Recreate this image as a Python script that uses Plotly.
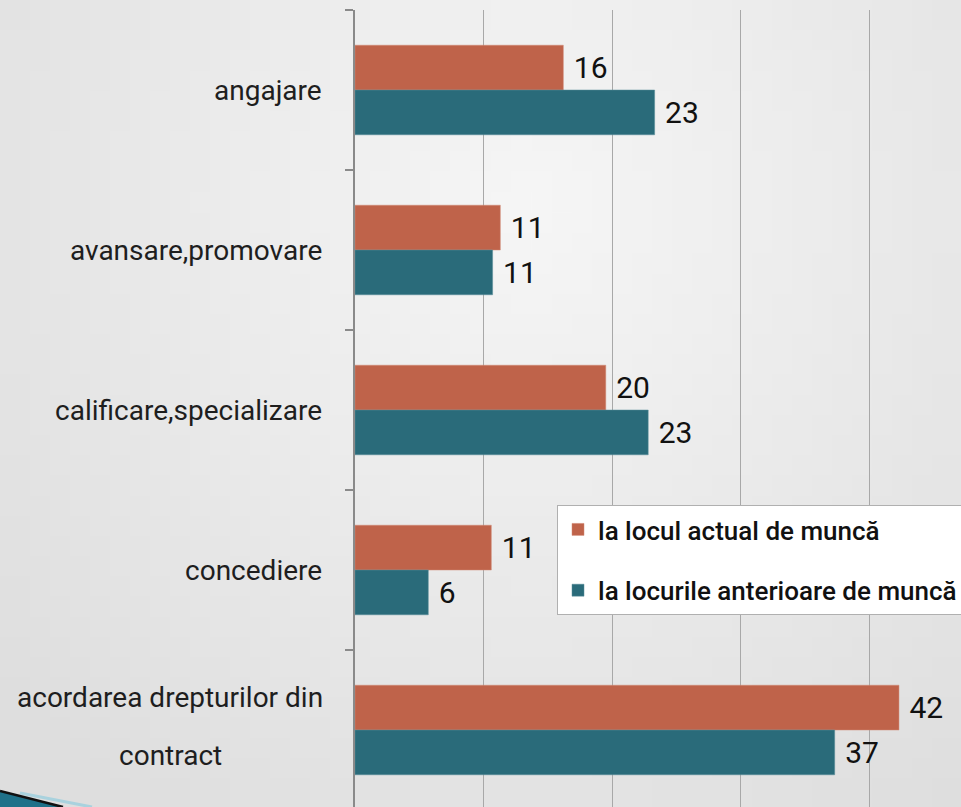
import base64, struct, zlib, math
import plotly.graph_objects as go

# ---------------- data ----------------
categories = ["angajare", "avansare,promovare", "calificare,specializare",
              "concediere", "acordarea drepturilor din contract"]
category_labels = ["angajare", "avansare,promovare", "calificare,specializare",
                   "concediere", "acordarea drepturilor din<br>contract"]
series_names = ["la locul actual de muncă", "la locurile anterioare de muncă"]
actual_values = [16.2, 11.3, 19.5, 10.6, 42.3]
previous_values = [23.3, 10.7, 22.8, 5.7, 37.3]
actual_labels = ["16", "11", "20", "11", "42"]
previous_labels = ["23", "11", "23", "6", "37"]

ORANGE = "#BF634A"
TEAL = "#2A6B7A"
FONT = "Roboto, Lato, sans-serif"

W, H = 961, 807
L, R, T, B = 355, 0, 10, 0
PW, PH = W - L - R, H - T - B


# ---------------- background gradient image ----------------
def gradient_png(w=48, h=40):
    rows = b""
    for j in range(h):
        row = b"\x00"
        for i in range(w):
            dx = (i / (w - 1) - 0.55) / 0.75
            dy = (j / (h - 1) - 0.25) / 0.95
            d = min(1.0, math.sqrt(dx * dx + dy * dy))
            v = int(round(246 - 24 * d))
            row += bytes([v, v, v])
        rows += row
    def chunk(tag, data):
        c = struct.pack(">I", len(data)) + tag + data
        return c + struct.pack(">I", zlib.crc32(tag + data) & 0xffffffff)
    png = b"\x89PNG\r\n\x1a\n"
    png += chunk(b"IHDR", struct.pack(">IIBBBBB", w, h, 8, 2, 0, 0, 0))
    png += chunk(b"IDAT", zlib.compress(rows, 9))
    png += chunk(b"IEND", b"")
    return "data:image/png;base64," + base64.b64encode(png).decode()


def px2paper(px, py):
    return (px - L) / PW, (H - py) / PH


fig = go.Figure()
fig.add_trace(go.Bar(
    y=categories, x=actual_values, orientation="h", name=series_names[0],
    marker=dict(color=ORANGE, line=dict(color="#d08a76", width=0.5)),
    text=actual_labels, texttemplate="\u00a0%{text}", textposition="outside",
    textfont=dict(family=FONT, size=30, color="#111111"),
    cliponaxis=False, legendgroup="a",
))
fig.add_trace(go.Bar(
    y=categories, x=previous_values, orientation="h", name=series_names[1],
    marker=dict(color=TEAL, line=dict(color="#5a8e9a", width=0.5)),
    text=previous_labels, texttemplate="\u00a0%{text}", textposition="outside",
    textfont=dict(family=FONT, size=30, color="#111111"),
    cliponaxis=False, legendgroup="b",
))

# category labels as annotations (multi-line ones centred, with wider line spacing)
LABEL_FONT = dict(family=FONT, size=28, color="#1e1e1e")
annotations = []
for cat, lab in zip(categories, category_labels):
    lines = lab.split("<br>")
    if len(lines) == 1:
        annotations.append(dict(
            x=0, xref="paper", y=cat, yref="y", text=lab, showarrow=False,
            xanchor="right", xshift=-31, font=LABEL_FONT))
    else:
        cx = px2paper(170, 0)[0]
        n = len(lines)
        for k, ln in enumerate(lines):
            annotations.append(dict(
                x=cx, xref="paper", y=cat, yref="y", text=ln, showarrow=False,
                xanchor="center", yshift=(n - 1) / 2 * 58 - k * 58 + 4, font=LABEL_FONT))

# decorative swoosh (bottom-left)
p = [px2paper(0, 791), px2paper(63, 807), px2paper(0, 807)]
swoosh = "M {} {} L {} {} L {} {} Z".format(p[0][0], p[0][1], p[1][0], p[1][1], p[2][0], p[2][1])
q = [px2paper(20, 793), px2paper(92, 807)]
shapes = [
    dict(type="line", xref="paper", yref="paper", x0=q[0][0], y0=q[0][1], x1=q[1][0], y1=q[1][1],
         line=dict(color="#a9d2de", width=3), layer="above"),
    dict(type="path", xref="paper", yref="paper", path=swoosh,
         fillcolor="#1f7189", line=dict(color="#1f7189", width=0), layer="above"),
    dict(type="line", xref="paper", yref="paper", x0=p[0][0], y0=p[0][1], x1=p[1][0], y1=p[1][1],
         line=dict(color="#111111", width=2.5), layer="above"),
]

lx, ly = px2paper(557, 505)
fig.update_layout(
    width=W, height=H,
    margin=dict(l=L, r=R, t=T, b=B, pad=0, autoexpand=False),
    paper_bgcolor="#ebebeb",
    plot_bgcolor="rgba(0,0,0,0)",
    images=[dict(source=gradient_png(), xref="paper", yref="paper",
                 x=-L / PW, y=1 + T / PH, sizex=W / PW, sizey=H / PH,
                 sizing="stretch", xanchor="left", yanchor="top", layer="below")],
    barmode="group", bargap=0.44, bargroupgap=0.0,
    showlegend=True,
    legend=dict(x=lx, y=ly, xanchor="left", yanchor="top",
                bgcolor="#ffffff", bordercolor="#b0b0b0", borderwidth=1,
                font=dict(family=FONT, size=26, color="#111111", weight=500),
                tracegroupgap=24, traceorder="grouped", itemwidth=30),
    xaxis=dict(range=[0, PW / 12.86], dtick=10, tick0=0, showgrid=True,
               gridcolor="#a8a8a8", gridwidth=1.2, zeroline=False,
               showticklabels=False, showline=False, ticks=""),
    yaxis=dict(categoryorder="array", categoryarray=categories,
               range=[-0.5 + PH / 160.0, -0.5], showticklabels=False,
               showline=True, linecolor="#8a8a8a", linewidth=1.5,
               ticks="outside", tickson="boundaries", ticklen=8,
               tickcolor="#8a8a8a", tickwidth=1.5, showgrid=False, zeroline=False),
    annotations=annotations,
    shapes=shapes,
)

fig.write_html("out.html", config={"displayModeBar": False},
               post_script="document.body.style.margin='0';document.body.style.overflow='hidden';")
